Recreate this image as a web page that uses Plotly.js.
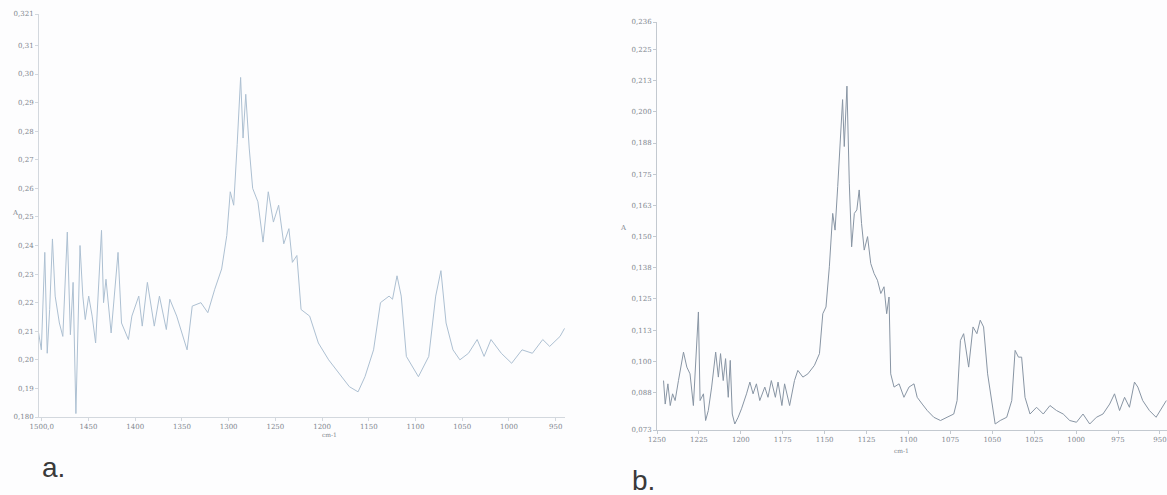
<!DOCTYPE html>
<html><head><meta charset="utf-8">
<script src="https://cdn.plot.ly/plotly-3.0.1.min.js"></script>
<style>html,body{margin:0;padding:0;background:#fdfdfe;}#chart{width:1167px;height:495px;}</style>
</head><body><div id="chart"></div>
<script>
// Panel a: wavenumber (cm-1) and absorbance
const wavenumberA = [1503.4,1500.5,1496.8,1494.2,1491.6,1488.6,1485.7,1481.2,1477.5,1472.7,1469.4,1466.5,1463.5,1459.1,1456.1,1453.5,1449.8,1446.1,1442.4,1436.1,1433.9,1431.3,1425.8,1418.4,1414.7,1407.3,1403.6,1396.2,1392.5,1387.0,1379.6,1374.1,1366.7,1363.0,1355.6,1344.5,1339.0,1329.7,1322.3,1314.9,1307.5,1302.0,1298.3,1294.6,1290.9,1287.2,1284.6,1281.7,1278.0,1274.3,1268.7,1263.2,1257.6,1252.1,1246.5,1241.0,1235.5,1231.8,1227.0,1222.5,1213.3,1204.0,1193.0,1181.9,1170.8,1161.5,1154.1,1144.9,1137.5,1128.3,1124.6,1119.8,1115.3,1109.8,1096.9,1085.8,1078.4,1072.8,1067.3,1059.9,1052.5,1043.3,1034.0,1026.6,1019.2,1008.2,997.1,986.0,974.9,963.8,956.4,945.3,940.5];
const absorbanceA = [0.2094,0.2035,0.2376,0.2023,0.2176,0.2423,0.2223,0.2129,0.2082,0.2447,0.2088,0.2271,0.1812,0.2400,0.2223,0.2141,0.2223,0.2153,0.2059,0.2453,0.2200,0.2282,0.2094,0.2376,0.2129,0.2071,0.2153,0.2223,0.2118,0.2271,0.2118,0.2223,0.2106,0.2212,0.2153,0.2035,0.2188,0.2200,0.2165,0.2247,0.2318,0.2435,0.2588,0.2541,0.2753,0.2988,0.2776,0.2929,0.2741,0.2600,0.2553,0.2412,0.2588,0.2482,0.2541,0.2406,0.2459,0.2341,0.2365,0.2176,0.2153,0.2059,0.2000,0.1953,0.1906,0.1888,0.1941,0.2035,0.2200,0.2223,0.2212,0.2294,0.2223,0.2012,0.1941,0.2012,0.2223,0.2312,0.2129,0.2035,0.2000,0.2023,0.2071,0.2012,0.2071,0.2023,0.1988,0.2035,0.2023,0.2071,0.2047,0.2082,0.2110];

// Panel b: wavenumber (cm-1) and absorbance
const wavenumberB = [1246.1,1245.1,1243.5,1242.1,1240.7,1239.2,1237.2,1234.2,1232.2,1230.3,1228.3,1226.9,1225.3,1224.3,1222.3,1221.0,1219.4,1217.4,1215.0,1213.4,1212.1,1210.5,1209.1,1207.5,1206.3,1205.1,1203.6,1201.6,1199.6,1196.6,1194.6,1192.7,1190.7,1188.7,1185.7,1183.8,1181.8,1179.4,1177.8,1175.5,1173.9,1170.9,1168.0,1166.0,1163.0,1160.0,1156.1,1153.1,1151.1,1149.2,1147.2,1145.2,1143.8,1142.2,1140.6,1139.3,1138.3,1136.7,1135.3,1133.9,1132.3,1130.8,1129.4,1128.0,1126.4,1124.4,1122.5,1120.5,1118.5,1116.5,1114.6,1113.0,1111.6,1110.6,1108.6,1105.6,1102.7,1099.7,1096.7,1094.8,1091.8,1088.8,1084.9,1080.9,1077.0,1073.0,1071.0,1069.0,1067.1,1064.1,1061.5,1059.2,1057.2,1055.2,1052.8,1050.3,1048.3,1045.3,1041.4,1038.4,1036.4,1034.4,1032.5,1030.5,1027.5,1023.6,1019.6,1015.6,1011.7,1007.7,1003.8,999.8,995.9,991.9,987.9,984.0,980.0,977.1,974.1,971.1,968.2,965.2,963.2,960.3,956.3,952.3,948.4,946.2];
const absorbanceB = [0.0923,0.0829,0.0910,0.0823,0.0870,0.0843,0.0923,0.1037,0.0977,0.0950,0.0823,0.0990,0.1198,0.0843,0.0870,0.0763,0.0803,0.0897,0.1037,0.0937,0.1031,0.0923,0.1011,0.0856,0.1004,0.0789,0.0749,0.0776,0.0810,0.0870,0.0917,0.0870,0.0910,0.0843,0.0897,0.0856,0.0923,0.0856,0.0917,0.0823,0.0910,0.0823,0.0923,0.0964,0.0937,0.0950,0.0984,0.1031,0.1191,0.1218,0.1379,0.1593,0.1526,0.1701,0.1915,0.2049,0.1861,0.2103,0.1714,0.1459,0.1593,0.1607,0.1687,0.1553,0.1446,0.1500,0.1392,0.1352,0.1325,0.1272,0.1299,0.1191,0.1258,0.0950,0.0897,0.0910,0.0856,0.0897,0.0910,0.0856,0.0829,0.0803,0.0776,0.0763,0.0776,0.0789,0.0843,0.1084,0.1111,0.0977,0.1138,0.1111,0.1165,0.1138,0.0950,0.0843,0.0749,0.0763,0.0776,0.0843,0.1044,0.1017,0.1017,0.0856,0.0789,0.0816,0.0789,0.0823,0.0803,0.0789,0.0763,0.0756,0.0789,0.0749,0.0776,0.0789,0.0829,0.0870,0.0803,0.0856,0.0816,0.0917,0.0897,0.0843,0.0803,0.0776,0.0816,0.0843];

// Tick labels
const xTickValsA = [1500,1450,1400,1350,1300,1250,1200,1150,1100,1050,1000,950];
const xTickTextA = ['1500,0','1450','1400','1350','1300','1250','1200','1150','1100','1050','1000','950'];
const yTickValsA = [0.18,0.19,0.20,0.21,0.22,0.23,0.24,0.25,0.26,0.27,0.28,0.29,0.30,0.31,0.321];
const yTickTextA = ['0,180','0,19','0,20','0,21','0,22','0,23','0,24','0,25','0,26','0,27','0,28','0,29','0,30','0,31','0,321'];
const xTickValsB = [1250,1225,1200,1175,1150,1125,1100,1075,1050,1025,1000,975,950];
const xTickTextB = ['1250','1225','1200','1175','1150','1125','1100','1075','1050','1025','1000','975','950'];
const yTickValsB = [0.0725,0.0875,0.1,0.1125,0.125,0.1375,0.15,0.1625,0.175,0.1875,0.2,0.2125,0.225,0.236];
const yTickTextB = ['0,073','0,088','0,100','0,113','0,125','0,138','0,150','0,163','0,175','0,188','0,200','0,213','0,225','0,236'];

const W = 1167, H = 495;
const px = v => v / W;
const py = v => (H - v) / H;

const tickFont = {family: 'DejaVu Serif, serif', size: 7, color: '#7f868e'};
const axBase = {showgrid: false, zeroline: false, showline: true, linewidth: 1,
  ticks: 'outside', ticklen: 3, tickwidth: 1, tickmode: 'array', tickfont: tickFont};

const traces = [
  {x: wavenumberA, y: absorbanceA, xaxis: 'x', yaxis: 'y', type: 'scatter', mode: 'lines',
   line: {color: '#adc0d2', width: 1}, hoverinfo: 'skip'},
  {x: wavenumberB, y: absorbanceB, xaxis: 'x2', yaxis: 'y2', type: 'scatter', mode: 'lines',
   line: {color: '#8895a4', width: 1}, hoverinfo: 'skip'}
];

const layout = {
  width: W, height: H,
  margin: {l: 0, r: 0, t: 0, b: 0},
  paper_bgcolor: '#fdfdfe', plot_bgcolor: 'rgba(0,0,0,0)',
  showlegend: false,
  xaxis: Object.assign({}, axBase, {domain: [px(39), px(565)], range: [1503, 940], anchor: 'y',
    tickvals: xTickValsA, ticktext: xTickTextA, linecolor: '#d3d8de', tickcolor: '#d3d8de'}),
  yaxis: Object.assign({}, axBase, {domain: [py(417), py(14)], range: [0.18, 0.321], anchor: 'x',
    tickvals: yTickValsA, ticktext: yTickTextA, linecolor: '#d3d8de', tickcolor: '#d3d8de'}),
  xaxis2: Object.assign({}, axBase, {domain: [px(657), 1], range: [1250, 945.8], anchor: 'y2',
    tickvals: xTickValsB, ticktext: xTickTextB, linecolor: '#c3c9d0', tickcolor: '#c3c9d0'}),
  yaxis2: Object.assign({}, axBase, {domain: [py(430), py(22)], range: [0.0725, 0.236], anchor: 'x2',
    tickvals: yTickValsB, ticktext: yTickTextB, linecolor: '#c3c9d0', tickcolor: '#c3c9d0'}),
  annotations: [
    {text: 'a.', xref: 'paper', yref: 'paper', x: px(40), y: py(467), xanchor: 'left', yanchor: 'middle',
     showarrow: false, font: {family: 'Liberation Sans, Arial, sans-serif', size: 28, color: '#3a3a3a'}},
    {text: 'b.', xref: 'paper', yref: 'paper', x: px(630), y: py(480), xanchor: 'left', yanchor: 'middle',
     showarrow: false, font: {family: 'Liberation Sans, Arial, sans-serif', size: 28, color: '#3a3a3a'}},
    {text: 'A', xref: 'paper', yref: 'paper', x: px(10), y: py(213), showarrow: false,
     font: {family: 'DejaVu Serif, serif', size: 7, color: '#7f868e'}},
    {text: 'A', xref: 'paper', yref: 'paper', x: px(623), y: py(228), showarrow: false,
     font: {family: 'DejaVu Serif, serif', size: 7, color: '#7f868e'}},
    {text: 'cm-1', xref: 'paper', yref: 'paper', x: px(320), y: py(440), showarrow: false,
     font: {family: 'DejaVu Serif, serif', size: 6, color: '#7f868e'}},
    {text: 'cm-1', xref: 'paper', yref: 'paper', x: px(911), y: py(456), showarrow: false,
     font: {family: 'DejaVu Serif, serif', size: 6, color: '#7f868e'}}
  ]
};

Plotly.newPlot('chart', traces, layout, {displayModeBar: false, staticPlot: true});
</script>
</body></html>
